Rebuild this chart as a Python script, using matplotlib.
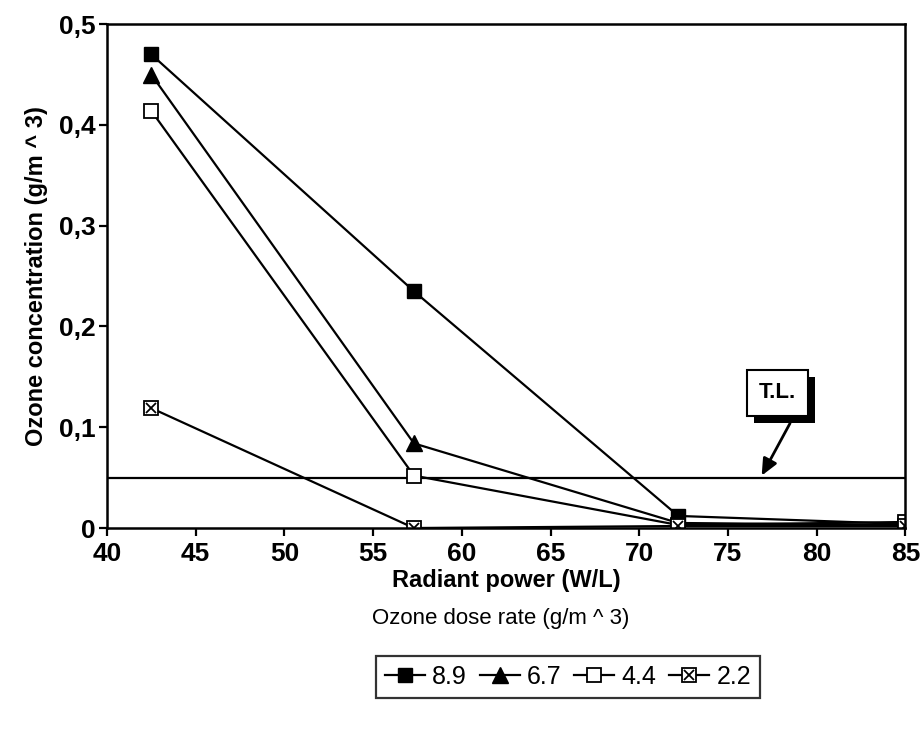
import matplotlib.pyplot as plt
import matplotlib.patheffects as pe

plt.rcParams['font.family'] = ['Liberation Sans', 'DejaVu Sans']

# Radiant power (W/L)
power = [42.5, 57.3, 72.2, 85.0]

# Ozone concentration (g/m^3) for each ozone dose rate
dose_89 = [0.470, 0.235, 0.012, 0.004]
dose_67 = [0.450, 0.084, 0.005, 0.003]
dose_44 = [0.414, 0.052, 0.003, 0.006]
dose_22 = [0.119, 0.000, 0.002, 0.002]

threshold = 0.05
yticks = [0, 0.1, 0.2, 0.3, 0.4, 0.5]
ytick_labels = ["0", "0,1", "0,2", "0,3", "0,4", "0,5"]
xticks = [40, 45, 50, 55, 60, 65, 70, 75, 80, 85]

fig = plt.figure(figsize=(9.22, 7.35), dpi=100)
ax = fig.add_axes([0.116, 0.2816, 0.866, 0.6855])

lw = 1.6
h89, = ax.plot(power, dose_89, color='black', lw=lw, marker='s', ms=10,
               mfc='black', mec='black', label="8.9")
h67, = ax.plot(power, dose_67, color='black', lw=lw, marker='^', ms=12,
               mfc='black', mec='black', label="6.7")
h44, = ax.plot(power, dose_44, color='black', lw=lw, marker='s', ms=10,
               mfc='white', mec='black', mew=1.3, label="4.4")
h22, = ax.plot(power, dose_22, color='black', lw=lw, marker='s', ms=10,
               mfc='white', mec='black', mew=1.3, label="2.2")
x22, = ax.plot(power, dose_22, ls='none', marker='x', ms=7, mec='black', mew=1.3)

ax.axhline(threshold, color='black', lw=lw, zorder=1)

ax.set_xlim(40, 85)
ax.set_ylim(0, 0.5)
ax.set_xticks(xticks)
ax.set_yticks(yticks)
ax.set_yticklabels(ytick_labels)
ax.tick_params(direction='out', length=6, width=1.6, labelsize=19, pad=2)
ax.tick_params(axis='x', pad=4)
for lab in ax.get_xticklabels() + ax.get_yticklabels():
    lab.set_fontweight('bold')
for s in ax.spines.values():
    s.set_linewidth(1.8)

ax.set_xlabel("Radiant power (W/L)", fontsize=17, fontweight='bold', labelpad=2)
ax.set_ylabel("Ozone concentration (g/m ^ 3)", fontsize=17, fontweight='bold', labelpad=8)

# T.L. callout with drop shadow
tl = ax.text(77.8, 0.134, "T.L.", fontsize=16, fontweight='bold', ha='center', va='center',
             bbox=dict(boxstyle='square,pad=0.55', fc='white', ec='black', lw=1.5))
tl.get_bbox_patch().set_path_effects([
    pe.SimplePatchShadow(offset=(5, -5), shadow_rgbFace='black', alpha=1.0),
    pe.Normal()])
ax.annotate("", xy=(76.9, 0.052), xytext=(78.5, 0.104),
            arrowprops=dict(arrowstyle='-|>,head_length=1.0,head_width=0.45',
                            color='black', lw=2, shrinkA=0, shrinkB=0))

fig.text(0.543, 0.159, "Ozone dose rate (g/m ^ 3)", fontsize=16, ha='center', va='center')

leg = fig.legend([h89, h67, h44, (h22, x22)], ["8.9", "6.7", "4.4", "2.2"],
                 loc='center', bbox_to_anchor=(0.616, 0.079), ncol=4,
                 fontsize=18, handlelength=1.6, handletextpad=0.3, columnspacing=0.5,
                 frameon=True, fancybox=False, edgecolor='black', borderpad=0.35)
leg.get_frame().set_linewidth(1.6)

fig.savefig("out.png", dpi=100)
